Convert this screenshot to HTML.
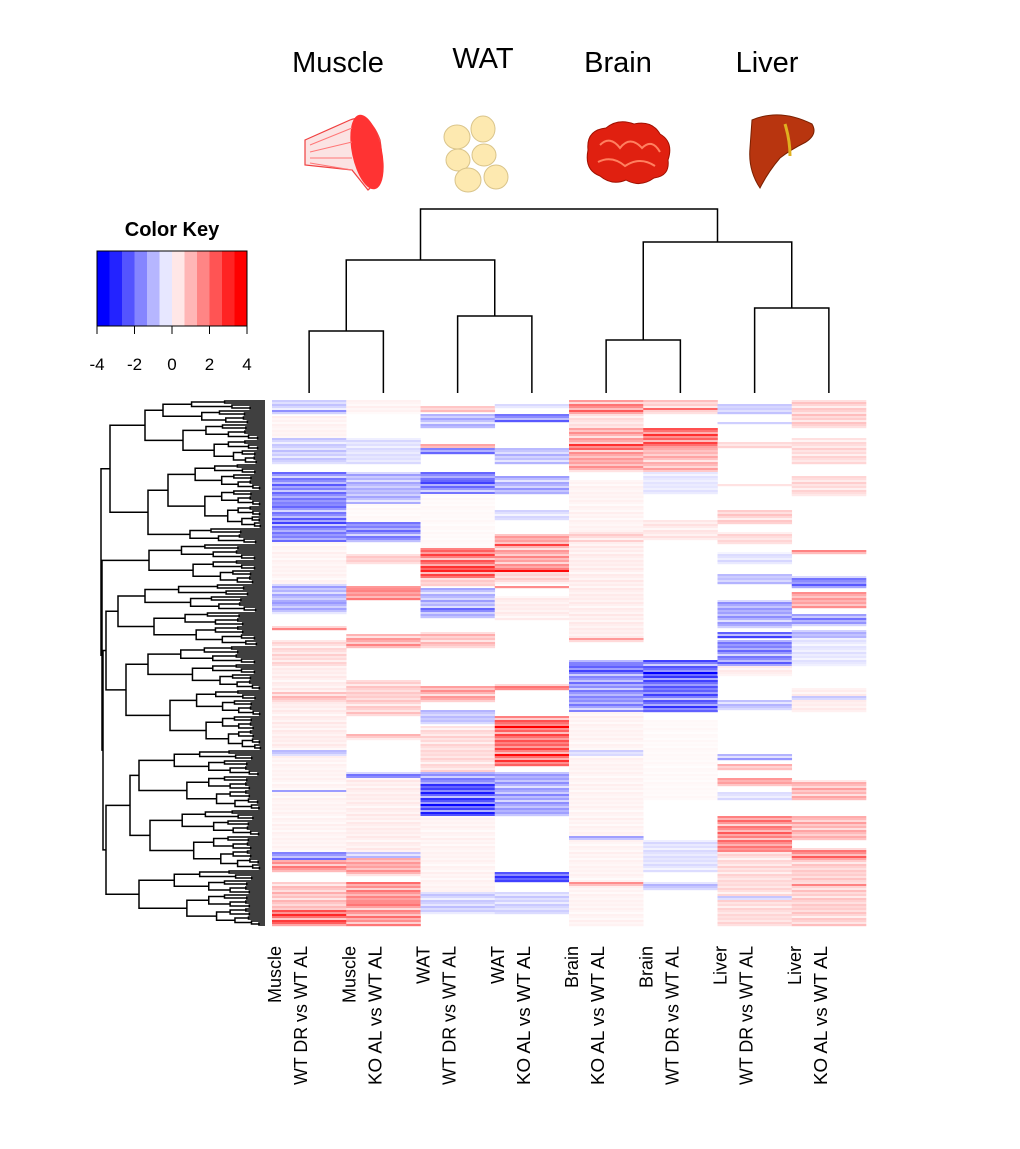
<!DOCTYPE html>
<html><head><meta charset="utf-8"><style>
body{margin:0;background:#fff;}
svg{display:block;font-family:"Liberation Sans",sans-serif;}
</style></head><body>
<svg id="chart" width="1020" height="1149" viewBox="0 0 1020 1149" xmlns="http://www.w3.org/2000/svg">
<rect width="1020" height="1149" fill="#fff"/>
<g id="titles" font-size="29" text-anchor="middle" fill="#000">
  <text x="338" y="72">Muscle</text>
  <text x="483" y="68">WAT</text>
  <text x="618" y="72">Brain</text>
  <text x="767" y="72">Liver</text>
</g>
<g>
  <path d="M305,140 L350,120 Q370,112 380,140 Q386,175 368,190 L352,170 L305,165 Z" fill="#fbe3e3" stroke="#f04040" stroke-width="1.2"/>
  <ellipse cx="367" cy="152" rx="15" ry="38" fill="#f33" transform="rotate(-12 367 152)"/>
  <path d="M310,145 L352,128 M310,152 L352,142 M310,158 L352,158 M310,163 L352,170" stroke="#f77" stroke-width="1" fill="none"/>
</g>
<g fill="#fde9b0" stroke="#d9c48a" stroke-width="1">
  <ellipse cx="457" cy="137" rx="13" ry="12"/><ellipse cx="483" cy="129" rx="12" ry="13"/>
  <ellipse cx="458" cy="160" rx="12" ry="11"/><ellipse cx="484" cy="155" rx="12" ry="11"/>
  <ellipse cx="468" cy="180" rx="13" ry="12"/><ellipse cx="496" cy="177" rx="12" ry="12"/>
</g>
<g>
  <path d="M588,150 Q586,130 606,128 Q618,118 634,124 Q652,120 660,134 Q674,142 668,160 Q670,176 654,178 Q640,188 626,180 Q612,186 600,176 Q584,170 588,150 Z" fill="#e02010" stroke="#a01000" stroke-width="1"/>
  <path d="M600,145 Q610,135 620,148 Q630,135 642,148 Q652,138 660,152 M598,162 Q612,155 625,166 Q640,156 655,166" stroke="#ff8060" stroke-width="2" fill="none"/>
</g>
<g>
  <path d="M752,120 Q780,108 812,124 Q818,134 806,142 Q790,150 780,158 Q768,172 760,188 Q748,170 750,148 Z" fill="#b8350f" stroke="#7a2000" stroke-width="1"/>
  <path d="M785,124 Q790,140 790,156" stroke="#e0b020" stroke-width="3" fill="none"/>
</g>
<g id="colorKey">
  <text x="172" y="236" font-size="20" font-weight="bold" text-anchor="middle">Color Key</text>
</g>
<g id="colDend" stroke="#000" stroke-width="1.5" fill="none"></g>
<g id="rowDend" stroke="#000" stroke-width="1.5" fill="none"></g>
<g id="heat"></g>
<g id="xlabels" font-size="18" fill="#000"></g>
</svg>
<script>
const columnTissues = ["Muscle","Muscle","WAT","WAT","Brain","Brain","Liver","Liver"];
const columnComparisons = ["WT DR vs WT AL","KO AL vs WT AL","WT DR vs WT AL","KO AL vs WT AL","KO AL vs WT AL","WT DR vs WT AL","WT DR vs WT AL","KO AL vs WT AL"];
const keyTicks = [-4,-2,0,2,4];
const geneCount = 263;
// segments: [startGene, endGene, log-fold value]
const muscleDR = [[0,7,-0.8],[5,6,-1.6],[8,19,0.2],[19,32,-0.8],[36,71,-2],[52,53,-3],[61,62,-3],[71,92,0.2],[92,107,-1.2],[101,102,-2],[113,115,1.6],[120,133,0.6],[133,146,0.3],[146,151,1],[151,175,0.3],[175,178,-1],[178,226,0.2],[195,196,-1.2],[226,230,-1.8],[230,236,1.8],[241,255,1],[255,263,2.8]];
const muscleKO = [[0,7,0.2],[19,32,-0.5],[36,52,-1.2],[52,61,0.1],[61,71,-2],[77,82,0.8],[93,100,1.8],[94,95,3],[117,124,1.5],[140,158,0.8],[167,170,1],[186,189,-2],[189,226,0.3],[226,229,-1],[229,238,1.5],[241,263,1.8],[251,252,3]];
const watDR = [[3,6,1],[7,14,-1.2],[22,24,1.3],[24,27,-2],[36,47,-2],[40,42,-3],[47,74,0.1],[74,89,2.5],[84,86,3.5],[89,93,0.8],[94,109,-1.2],[104,106,-2],[116,124,1],[143,151,1.5],[155,162,-1],[163,186,0.6],[186,190,-1.8],[190,192,-2],[192,208,-3],[208,246,0.2],[246,257,-0.8]];
const watKO = [[2,4,-0.6],[7,11,-2],[24,32,-1],[38,47,-1.3],[55,60,-0.6],[67,86,1.5],[72,73,2.5],[84,86,3.5],[86,92,0.7],[93,94,2],[98,110,0.3],[142,145,2],[158,183,2.5],[162,164,3.5],[176,178,3.5],[186,208,-1.5],[236,241,-3],[246,257,-0.7]];
const brainKO = [[0,7,2],[7,14,0.5],[14,36,1.5],[22,25,2.5],[40,66,0.2],[66,71,0.7],[71,120,0.3],[119,121,2],[130,156,-1.8],[132,138,-2.5],[156,263,0.2],[175,178,-0.6],[218,220,-1.5],[241,243,2]];
const brainDR = [[0,7,0.8],[4,5,2],[14,24,2.5],[24,36,1.2],[36,47,-0.4],[60,70,0.4],[130,156,-2.5],[135,140,-3.2],[160,200,0.1],[220,236,-0.5],[241,245,-1]];
const liverDR = [[2,7,-0.8],[11,12,-1.5],[21,24,0.6],[42,43,1.5],[55,62,0.8],[66,72,0.6],[76,82,-0.5],[87,92,-1],[100,114,-1.5],[116,119,-2.5],[120,133,-2],[130,131,-2],[133,138,0.3],[150,155,-1],[177,180,-1.5],[182,185,1],[189,193,1.5],[196,200,-0.5],[208,226,2],[226,263,0.6],[248,250,-1]];
const liverKO = [[0,14,0.8],[19,32,0.6],[38,48,0.6],[75,77,1.5],[88,94,-2],[91,92,-3],[96,104,1.5],[107,113,-1.7],[115,119,-1.2],[119,133,-0.4],[144,156,0.3],[148,150,-1],[190,200,1.2],[208,220,1.2],[224,230,2],[230,263,0.8],[241,243,1.8]];
const columnData = [muscleDR, muscleKO, watDR, watKO, brainKO, brainDR, liverDR, liverKO];
// per-gene stripe intensity read as texture within blocks
const stripeTexture = [1.0,0.6,1.2,0.8,0.3,1.1,0.9,0.5,1.3,0.7,1.0,0.4,1.2,0.9,0.6,1.1,0.8];
// column dendrogram merges: [left, right, heightY]
const colMerges = [[-1,-2,331],[-3,-4,316],[-5,-6,340],[-7,-8,308],[1,2,260],[3,4,242],[5,6,209]];

const NS="http://www.w3.org/2000/svg";
function mk(tag, attrs, parent){const e=document.createElementNS(NS,tag);for(const k in attrs)e.setAttribute(k,attrs[k]);parent.appendChild(e);return e;}
function color(v){v=Math.max(-4,Math.min(4,v));const t=Math.abs(v)/4;const c=Math.round(255*(1-t));return v<0?`rgb(${c},${c},255)`:`rgb(255,${c},${c})`;}

const hx0=272, hx1=866, hy0=400, hy1=926;
const colW=(hx1-hx0)/columnData.length;
const xCol=i=>hx0+i*colW;
const yGene=g=>hy0+g*(hy1-hy0)/geneCount;

const heat=document.getElementById('heat');
columnData.forEach((segs,ci)=>{
  const vals=new Array(geneCount).fill(0);
  segs.forEach(s=>{for(let g=s[0];g<s[1]&&g<geneCount;g++)vals[g]=s[2];});
  for(let g=0;g<geneCount;g++){
    const v=vals[g]*stripeTexture[(g+ci*5)%stripeTexture.length];
    if(Math.abs(v)<0.02) continue;
    const r=mk('rect',{x:xCol(ci),y:yGene(g),width:colW+0.3,height:yGene(g+1)-yGene(g)+0.2,fill:color(v)},heat);
    
    
  }
});

const xl=document.getElementById('xlabels');
columnTissues.forEach((t,i)=>{
  const cx=xCol(i)+colW/2;
  const a=mk('text',{transform:`translate(${cx-28},946) rotate(-90)`,'text-anchor':'end'},xl);
  a.textContent=t;
  
  
  const b=mk('text',{transform:`translate(${cx-2},946) rotate(-90)`,'text-anchor':'end',textLength:139,lengthAdjust:'spacingAndGlyphs'},xl);
  b.textContent=columnComparisons[i];
  
  
});

const cd=document.getElementById('colDend');
const leafTop=393;
const nodes=[];
function nodePos(idx){ if(idx<0){return {x:xCol(-idx-1)+colW/2,y:leafTop};} return nodes[idx-1]; }
colMerges.forEach(m=>{
  const a=nodePos(m[0]), b=nodePos(m[1]), h=m[2];
  const p=mk('path',{d:`M${a.x},${a.y}V${h}H${b.x}V${b.y}`},cd);
  
  
  nodes.push({x:(a.x+b.x)/2,y:h});
});

const ck=document.getElementById('colorKey');
const kx0=97,kx1=247,ky0=251,ky1=326,bins=12;
for(let i=0;i<bins;i++){
  const v=-4+(i+0.5)*8/bins;
  const r=mk('rect',{x:kx0+i*(kx1-kx0)/bins,y:ky0,width:(kx1-kx0)/bins+0.3,height:ky1-ky0,fill:color(v*1.15)},ck);
  
  
}
const kb=mk('rect',{x:kx0,y:ky0,width:kx1-kx0,height:ky1-ky0,fill:'none',stroke:'#000','stroke-width':1},ck);


keyTicks.forEach(t=>{
  const x=kx0+(t+4)/8*(kx1-kx0);
  const l=mk('line',{x1:x,x2:x,y1:ky1,y2:ky1+8,stroke:'#000'},ck);
  
  
  const tx=mk('text',{x:x,y:370,'font-size':17,'text-anchor':'middle'},ck);
  tx.textContent=String(t);
  
  
});

const leafX=265;
function N(h,a,b){return {h,kids:[a,b]};}
function A(n,h){
  if(n<=1) return {leaf:true};
  const k=Math.max(1,Math.round(n*0.42));
  const d=leafX-h;
  return {h,kids:[A(k,h+d*(n>6?0.28:0.45)),A(n-k,h+d*(n>6?0.38:0.55))]};
}
const rowTree=N(101,
  N(110, N(145,A(12,163),A(20,183)), N(148,A(32,168),A(8,190))),
  N(102, A(20,149),
    N(103,
      N(106, N(118,A(14,145),A(17,154)), N(126,A(22,148),A(30,170))),
      N(106, N(130,A(30,139),A(30,150)), A(28,139)))));
const rd=document.getElementById('rowDend');
let leafIdx=0;
function layout(n){
  if(n.leaf){const y=yGene(leafIdx+0.5);leafIdx++;return {x:leafX,y};}
  const a=layout(n.kids[0]), b=layout(n.kids[1]);
  const p=mk('path',{d:`M${a.x},${a.y}H${n.h}V${b.y}H${b.x}`},rd);
  
  
  return {x:n.h,y:(a.y+b.y)/2};
}
layout(rowTree);
</script>
</body></html>
